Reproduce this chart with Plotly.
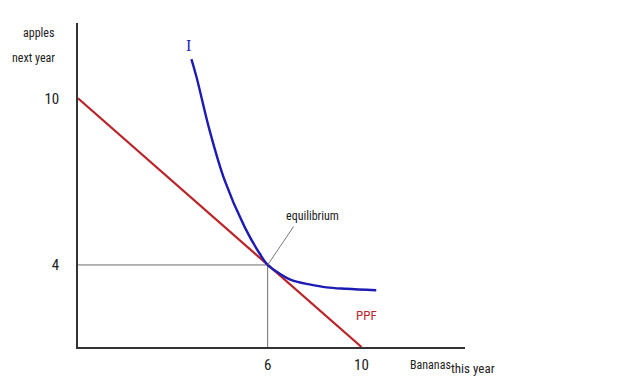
import plotly.graph_objects as go

# PPF (drawn as a straight line from the y-intercept to the x-intercept)
ppf_x = [0, 10]
ppf_y = [10, 0]

# Indifference curve I (in sketch axis units)
ic_x = [4.00, 4.18, 4.64, 5.17, 5.88, 6.40, 6.69, 7.10, 7.56, 8.16, 8.76, 9.46, 10.52]
ic_y = [11.58, 10.86, 8.72, 6.71, 4.82, 3.77, 3.30, 2.96, 2.68, 2.52, 2.40, 2.34, 2.28]

# Equilibrium point (where drop lines meet)
eq_x = 6.69
eq_y = 3.30

# Tick labels (hand-written on the sketch)
x_tickvals = [eq_x, 10]
x_ticktext = ["6", "10"]
y_tickvals = [eq_y, 10]
y_ticktext = ["4", "10"]

FONT = "Roboto Condensed, Liberation Sans Narrow, Liberation Sans, Arial, sans-serif"
RED = "#b8262a"
BLUE = "#1c1cb4"

fig = go.Figure()

# drop lines
fig.add_trace(go.Scatter(x=[0, eq_x, eq_x], y=[eq_y, eq_y, 0], mode="lines",
                         line=dict(color="#6e6e6e", width=1), hoverinfo="skip"))
# PPF
fig.add_trace(go.Scatter(x=ppf_x, y=ppf_y, mode="lines",
                         line=dict(color=RED, width=2.2), hoverinfo="skip"))
# indifference curve
fig.add_trace(go.Scatter(x=ic_x, y=ic_y, mode="lines", line_shape="spline",
                         line=dict(color=BLUE, width=2.4), hoverinfo="skip"))

# page body adds an 8px offset, so margins are reduced by 8 on left/top
fig.update_layout(
    width=640, height=391,
    margin=dict(l=70, r=183, t=15, b=52, autoexpand=False),
    paper_bgcolor="white", plot_bgcolor="white",
    showlegend=False,
    font=dict(family=FONT, color="#222"),
    xaxis=dict(range=[0, 13.65], showgrid=False, zeroline=False, automargin=False,
               showline=True, linecolor="#333", linewidth=1.5,
               tickvals=x_tickvals, ticktext=x_ticktext,
               ticks="outside", ticklen=3, tickcolor="rgba(0,0,0,0)",
               tickfont=dict(family=FONT, size=15, color="#222")),
    yaxis=dict(range=[0, 13.03], showgrid=False, zeroline=False, automargin=False,
               showline=True, linecolor="#333", linewidth=1.5,
               tickvals=y_tickvals, ticktext=y_ticktext,
               ticks="outside", ticklen=14, tickcolor="rgba(0,0,0,0)",
               tickfont=dict(family=FONT, size=15, color="#222")),
)

ann = [
    dict(text="apples", x=38, y=33, size=12, color="#222"),
    dict(text="next year", x=33, y=58, size=12, color="#222"),
    dict(text="Bananas", x=430, y=365, size=12, color="#222"),
    dict(text="this year", x=473, y=368, size=13, color="#222"),
    dict(text="PPF", x=366, y=315, size=13, color=RED),
    dict(text="equilibrium", x=312, y=216, size=12, color="#222"),
]
for a in ann:
    fig.add_annotation(text=a["text"], xref="paper", yref="paper",
                       x=(a["x"] - 78) / 387, y=(391 - 44 - a["y"]) / 324,
                       xanchor="center", yanchor="middle", showarrow=False,
                       font=dict(family=FONT, size=a["size"], color=a["color"]))

# curve label "I"
fig.add_annotation(text="I", x=3.88, y=12.13, showarrow=False,
                   xanchor="center", yanchor="middle",
                   font=dict(family="Liberation Serif, DejaVu Serif, serif", size=16, color=BLUE))

# pointer line from equilibrium label to the tangency point
fig.add_annotation(text="", x=eq_x, y=eq_y, ax=27, ay=-40, axref="pixel", ayref="pixel",
                   showarrow=True, arrowhead=0, arrowwidth=1, arrowcolor="#777")

fig.write_html("out.html")
